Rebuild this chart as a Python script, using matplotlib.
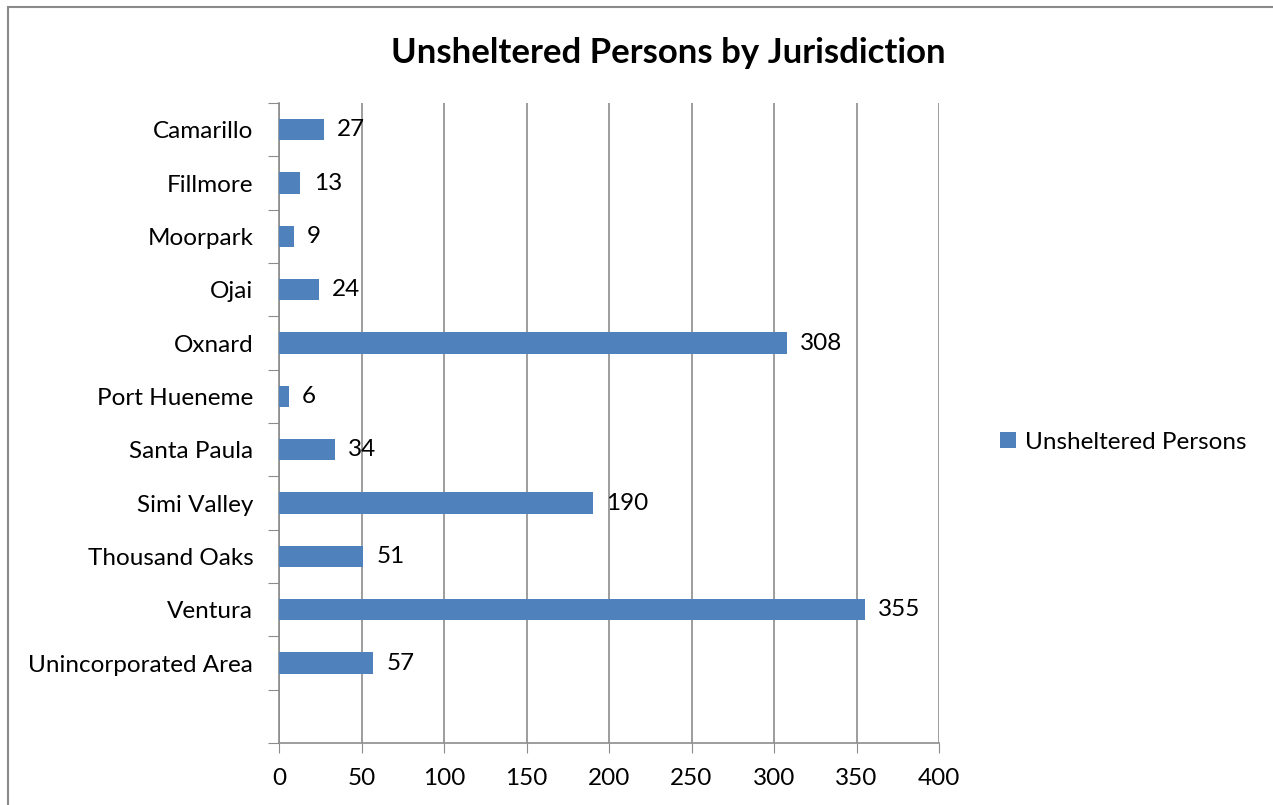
import numpy as np
import matplotlib.pyplot as plt
from matplotlib.patches import Rectangle

plt.rcParams['font.family'] = ['Lato', 'DejaVu Sans']

places = ["Camarillo", "Fillmore", "Moorpark", "Ojai", "Oxnard", "Port Hueneme",
          "Santa Paula", "Simi Valley", "Thousand Oaks", "Ventura",
          "Unincorporated Area"]
persons = [27, 13, 9, 24, 308, 6, 34, 190, 51, 355, 57]
x_ticks = [0, 50, 100, 150, 200, 250, 300, 350, 400]

bar_color = "#4F81BD"
grid_color = "#8C8C8C"
fs = 17.5

fig = plt.figure(figsize=(12.73, 8.05), dpi=100)
ax = fig.add_axes([279 / 1273, 1 - 743 / 805, 660 / 1273, 640 / 805])

ypos = np.arange(len(places))
ax.barh(ypos, persons, height=0.4, color=bar_color, zorder=3,
        label="Unsheltered Persons")
for y, v in zip(ypos, persons):
    ax.text(v + 8, y, str(v), va="center", ha="left", fontsize=fs, zorder=4)

# one empty slot below the last category, as in the original
ax.set_ylim(len(places) + 0.5, -0.5)
ax.set_xlim(0, 400)
ax.set_xticks(x_ticks)
ax.tick_params(axis="x", length=7, color=grid_color, labelsize=fs, pad=11)

ax.set_yticks(np.arange(-0.5, len(places) + 1, 1.0))
ax.set_yticklabels([])
ax.set_yticks(ypos, minor=True)
ax.set_yticklabels(places, minor=True)
ax.tick_params(axis="y", which="major", length=8, color=grid_color)
ax.tick_params(axis="y", which="minor", length=0, labelsize=fs, pad=18.5)

ax.grid(axis="x", color=grid_color, lw=1.2, zorder=0)
for s in ["top", "right"]:
    ax.spines[s].set_visible(False)
for s in ["left", "bottom"]:
    ax.spines[s].set_color(grid_color)
    ax.spines[s].set_linewidth(1.2)

fig.text(668 / 1273, 1 - 53 / 805, "Unsheltered Persons by Jurisdiction",
         ha="center", va="center", fontsize=25, fontweight="bold")

ax.legend(loc="center left", bbox_to_anchor=(978 / 1273, 1 - 442 / 805),
          bbox_transform=fig.transFigure, frameon=False, fontsize=fs,
          handlelength=0.65, handleheight=0.65, handletextpad=0.4)

fig.patches.append(Rectangle((8 / 1273, -0.1), 2, 1.1 - 7 / 805,
                             transform=fig.transFigure, fill=False,
                             edgecolor="#8A8A8A", lw=1.5))

fig.savefig("out.png", dpi=100)
